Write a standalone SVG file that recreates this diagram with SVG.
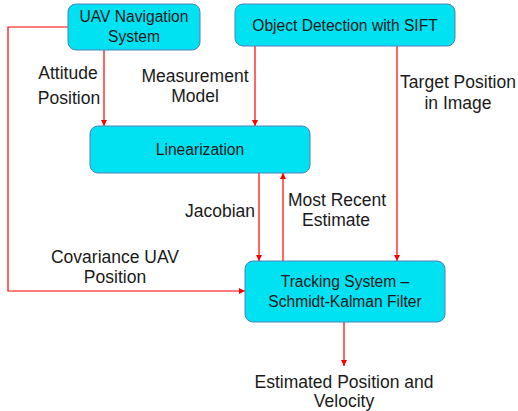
<svg xmlns="http://www.w3.org/2000/svg" width="518" height="411" viewBox="0 0 518 411">
<style>
.box{fill:#00E1F1;stroke:#4F81BD;stroke-width:1}
.bt{font-family:"Liberation Sans",Arial,sans-serif;font-size:15.6px;fill:#1a1a1a;text-anchor:middle}
.lb{font-family:"Liberation Sans",Arial,sans-serif;font-size:17.5px;fill:#1a1a1a;text-anchor:middle}
.ln{fill:none;stroke:#FF0000;stroke-width:1.2}
</style>
<defs>
<marker id="ah" viewBox="0 0 10 10" refX="10" refY="5" markerWidth="6" markerHeight="6" markerUnits="userSpaceOnUse" orient="auto">
<path d="M0,0 L10,5 L0,10 Z" fill="#FF0000"/>
</marker>
</defs>
<rect width="518" height="411" fill="#ffffff"/>
<g id="connectors">
<path class="ln" d="M68,27 H8 V291 H245" marker-end="url(#ah)"/>
<path class="ln" d="M104,50 V126" marker-end="url(#ah)"/>
<path class="ln" d="M255,46 V126" marker-end="url(#ah)"/>
<path class="ln" d="M397,46 V261" marker-end="url(#ah)"/>
<path class="ln" d="M259,173 V261" marker-end="url(#ah)"/>
<path class="ln" d="M283,261 V173" marker-end="url(#ah)"/>
<path class="ln" d="M344,322 V366" marker-end="url(#ah)"/>
</g>
<g id="uav">
<rect class="box" x="68" y="4" width="132" height="46" rx="8"/>
<text class="bt" x="134" y="22">UAV Navigation</text>
<text class="bt" x="134" y="42">System</text>
</g>
<g id="sift">
<rect class="box" x="235" y="4" width="220" height="42" rx="8"/>
<text class="bt" x="345" y="31">Object Detection with SIFT</text>
</g>
<g id="linearization">
<rect class="box" x="90" y="126" width="220" height="47" rx="8"/>
<text class="bt" x="200" y="155">Linearization</text>
</g>
<g id="tracking">
<rect class="box" x="245" y="261" width="200" height="61" rx="8"/>
<text class="bt" x="345" y="287">Tracking System –</text>
<text class="bt" x="345" y="307">Schmidt-Kalman Filter</text>
</g>
<g id="labels">
<text class="lb" x="68" y="79">Attitude</text>
<text class="lb" x="69" y="104">Position</text>
<text class="lb" x="195" y="82">Measurement</text>
<text class="lb" x="195" y="102">Model</text>
<text class="lb" x="458" y="88">Target Position</text>
<text class="lb" x="458" y="109">in Image</text>
<text class="lb" x="220" y="217">Jacobian</text>
<text class="lb" x="337" y="206">Most Recent</text>
<text class="lb" x="336" y="226">Estimate</text>
<text class="lb" x="115" y="263">Covariance UAV</text>
<text class="lb" x="115" y="283">Position</text>
<text class="lb" x="344" y="388">Estimated Position and</text>
<text class="lb" x="344" y="407">Velocity</text>
</g>
</svg>
